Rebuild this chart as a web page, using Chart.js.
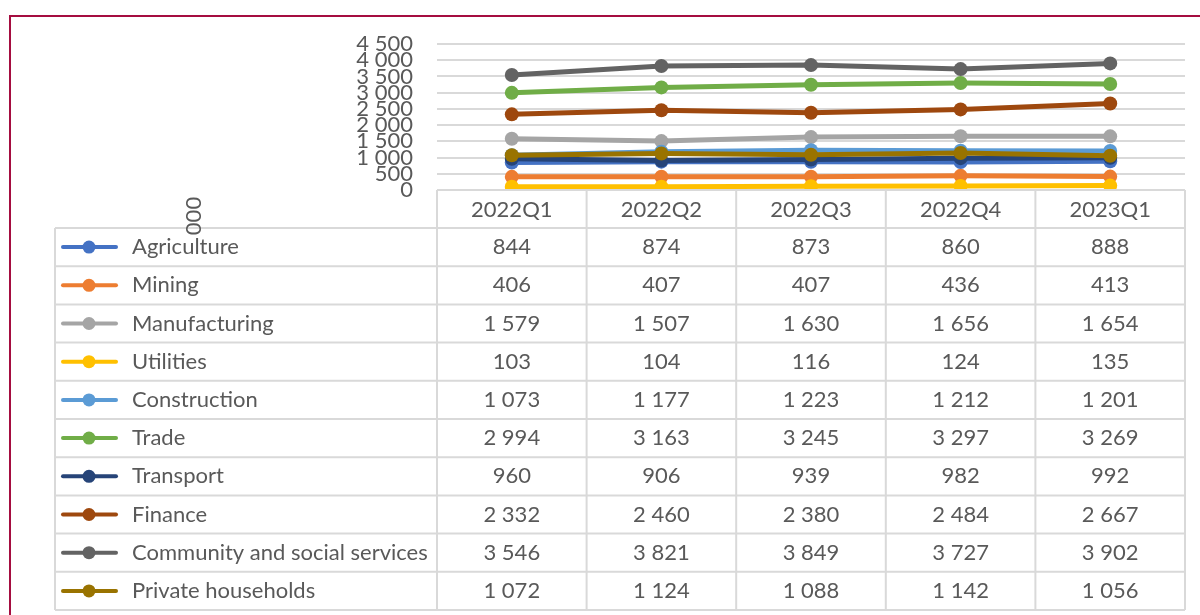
<!DOCTYPE html>
<html lang="en">
<head>
    <meta charset="UTF-8">
    <title>Employment by industry</title>
    <script src="https://cdn.jsdelivr.net/npm/chart.js"></script>
    <style>
    body {
        margin: 0;
        background: white;
    }
    #chart {
        display: block;
    }
</style>
</head>
<body>
    <canvas id="chart" width="1200" height="615"></canvas>

    <script>
        // quarterly figures, thousands
        const quarters = ['2022Q1', '2022Q2', '2022Q3', '2022Q4', '2023Q1'];
        const industries = ['Agriculture', 'Mining', 'Manufacturing', 'Utilities', 'Construction',
            'Trade', 'Transport', 'Finance', 'Community and social services', 'Private households'];
        const agriculture = [844, 874, 873, 860, 888];
        const mining = [406, 407, 407, 436, 413];
        const manufacturing = [1579, 1507, 1630, 1656, 1654];
        const utilities = [103, 104, 116, 124, 135];
        const construction = [1073, 1177, 1223, 1212, 1201];
        const trade = [2994, 3163, 3245, 3297, 3269];
        const transport = [960, 906, 939, 982, 992];
        const finance = [2332, 2460, 2380, 2484, 2667];
        const community = [3546, 3821, 3849, 3727, 3902];
        const households = [1072, 1124, 1088, 1142, 1056];
        const seriesValues = [agriculture, mining, manufacturing, utilities, construction,
            trade, transport, finance, community, households];
        const seriesColors = ['#4472C4', '#ED7D31', '#A5A5A5', '#FFC000', '#5B9BD5',
            '#70AD47', '#264478', '#9E480E', '#636363', '#997300'];
        const yTicks = [0, 500, 1000, 1500, 2000, 2500, 3000, 3500, 4000, 4500];
        const unitLabel = '000';

        const FONT = 'Lato, "Open Sans", sans-serif';
        const TEXT = '#595959';
        const LINES = '#D9D9D9';

        function fmt(v) {
            return String(v).replace(/\B(?=(\d{3})+(?!\d))/g, ' ');
        }

        // data table under the plot + frame
        const dataTable = {
            id: 'dataTable',
            afterDraw(chart) {
                const ctx = chart.ctx;
                const x = chart.scales.x;
                const area = chart.chartArea;
                const colW = x.width / quarters.length;
                const headTop = area.bottom;
                const headH = 38;
                const rowH = 38.2;
                const tableLeft = 55;
                const bodyTop = headTop + headH;
                const bodyBottom = bodyTop + rowH * industries.length;

                ctx.save();
                ctx.strokeStyle = LINES;
                ctx.lineWidth = 2;
                ctx.beginPath();
                // header row
                ctx.moveTo(area.left, headTop);
                ctx.lineTo(area.right, headTop);
                for (let i = 0; i <= quarters.length; i++) {
                    const cx = area.left + colW * i;
                    ctx.moveTo(cx, headTop);
                    ctx.lineTo(cx, bodyBottom);
                }
                for (let r = 0; r <= industries.length; r++) {
                    const y = bodyTop + rowH * r;
                    ctx.moveTo(tableLeft, y);
                    ctx.lineTo(area.right, y);
                }
                ctx.moveTo(tableLeft, bodyTop);
                ctx.lineTo(tableLeft, bodyBottom);
                ctx.stroke();

                ctx.fillStyle = TEXT;
                ctx.font = '22px ' + FONT;
                ctx.textAlign = 'center';
                ctx.textBaseline = 'middle';
                quarters.forEach((q, i) => {
                    ctx.fillText(q, x.getPixelForValue(i), headTop + headH / 2 + 1);
                });

                industries.forEach((name, r) => {
                    const cy = bodyTop + rowH * (r + 0.5);
                    // legend key
                    ctx.strokeStyle = seriesColors[r];
                    ctx.lineWidth = 4;
                    ctx.lineCap = 'round';
                    ctx.beginPath();
                    ctx.moveTo(63, cy);
                    ctx.lineTo(116, cy);
                    ctx.stroke();
                    ctx.fillStyle = seriesColors[r];
                    ctx.beginPath();
                    ctx.arc(89, cy, 6.5, 0, Math.PI * 2);
                    ctx.fill();

                    ctx.fillStyle = TEXT;
                    ctx.textAlign = 'left';
                    ctx.fillText(name, 132, cy);
                    ctx.textAlign = 'center';
                    seriesValues[r].forEach((v, i) => {
                        ctx.fillText(fmt(v), x.getPixelForValue(i), cy);
                    });
                });

                // axis unit, rotated
                ctx.translate(194, 216);
                ctx.rotate(-Math.PI / 2);
                ctx.fillText(unitLabel, 0, 0);
                ctx.restore();

                // outer frame
                ctx.save();
                ctx.strokeStyle = '#A50D40';
                ctx.lineWidth = 2;
                ctx.strokeRect(10, 16, 1250, 700);
                ctx.restore();
            }
        };

        const datasets = industries.map((name, i) => ({
            label: name,
            data: seriesValues[i],
            borderColor: seriesColors[i],
            backgroundColor: seriesColors[i],
            borderWidth: 5,
            pointRadius: 7,
            pointHoverRadius: 7,
            pointBorderWidth: 0,
            order: industries.length - 1 - i
        }));

        new Chart(document.getElementById('chart').getContext('2d'), {
            type: 'line',
            data: { labels: quarters, datasets: datasets },
            options: {
                responsive: false,
                animation: false,
                devicePixelRatio: 1,
                layout: { padding: { top: 44, right: 15, bottom: 425, left: 0 } },
                plugins: {
                    legend: { display: false },
                    tooltip: { enabled: false }
                },
                scales: {
                    x: {
                        offset: true,
                        ticks: { display: false },
                        grid: { display: false, drawTicks: false },
                        border: { display: false }
                    },
                    y: {
                        min: 0,
                        max: 4500,
                        afterFit(scale) { scale.width = 437; },
                        afterBuildTicks(scale) { scale.ticks = yTicks.map(v => ({ value: v })); },
                        ticks: {
                            stepSize: 500,
                            autoSkip: false,
                            padding: 24,
                            color: TEXT,
                            font: { family: FONT, size: 22, lineHeight: 1 },
                            callback: v => fmt(v)
                        },
                        grid: { color: LINES, lineWidth: 2, drawTicks: false },
                        border: { display: false }
                    }
                }
            },
            plugins: [dataTable]
        });
    </script>
</body>
</html>
